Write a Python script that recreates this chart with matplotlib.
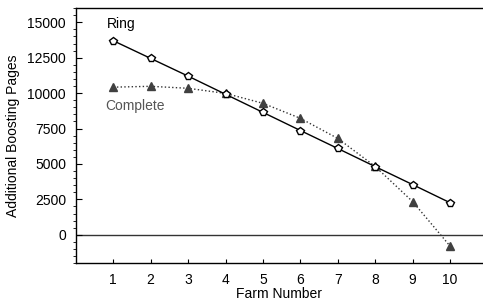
import matplotlib
matplotlib.use("Agg")
import matplotlib.pyplot as plt
from matplotlib.ticker import MultipleLocator

farms = [1, 2, 3, 4, 5, 6, 7, 8, 9, 10]
ring = [13700, 12450, 11200, 9920, 8640, 7360, 6090, 4810, 3540, 2260]
complete = [10420, 10480, 10340, 9980, 9280, 8220, 6800, 4820, 2340, -800]
yticks = [0, 2500, 5000, 7500, 10000, 12500, 15000]

plt.rcParams['font.family'] = ['Liberation Sans', 'DejaVu Sans']
fig = plt.figure(figsize=(4.83, 3.01), dpi=100)
ax = fig.add_axes([0.157, 0.126, 0.843, 0.847])

ax.axhline(0, color='#333333', lw=1.0, zorder=1)
ax.plot(farms, complete, linestyle=':', color='#333333', lw=1.0,
        marker='^', markersize=6, markerfacecolor='#404040',
        markeredgecolor='#404040', zorder=2)
ax.plot(farms, ring, linestyle='-', color='black', lw=1.0,
        marker='p', markersize=6, markerfacecolor='white',
        markeredgecolor='black', zorder=3)

ax.text(0.84, 15350, 'Ring', fontsize=10, color='black', va='top')
ax.text(1.59, 9080, 'Complete', fontsize=10, color='#555555', ha='center', va='center')

ax.set_xlim(0, 10.88)
ax.set_ylim(-2000, 16000)
ax.set_xticks(farms)
ax.set_yticks(yticks)
ax.yaxis.set_minor_locator(MultipleLocator(500))
ax.tick_params(axis='both', direction='in', labelsize=10)
ax.tick_params(axis='y', which='major', length=4, pad=7)
ax.tick_params(axis='y', which='minor', length=2)
ax.tick_params(axis='x', which='major', length=3, pad=7)
ax.spines['right'].set_visible(False)
for s in ['left', 'bottom', 'top']:
    ax.spines[s].set_linewidth(1.0)

ax.set_xlabel('Farm Number', fontsize=10, labelpad=0.5)
ax.set_ylabel('Additional Boosting Pages', fontsize=10, labelpad=5)

fig.savefig('out.png', dpi=100)
